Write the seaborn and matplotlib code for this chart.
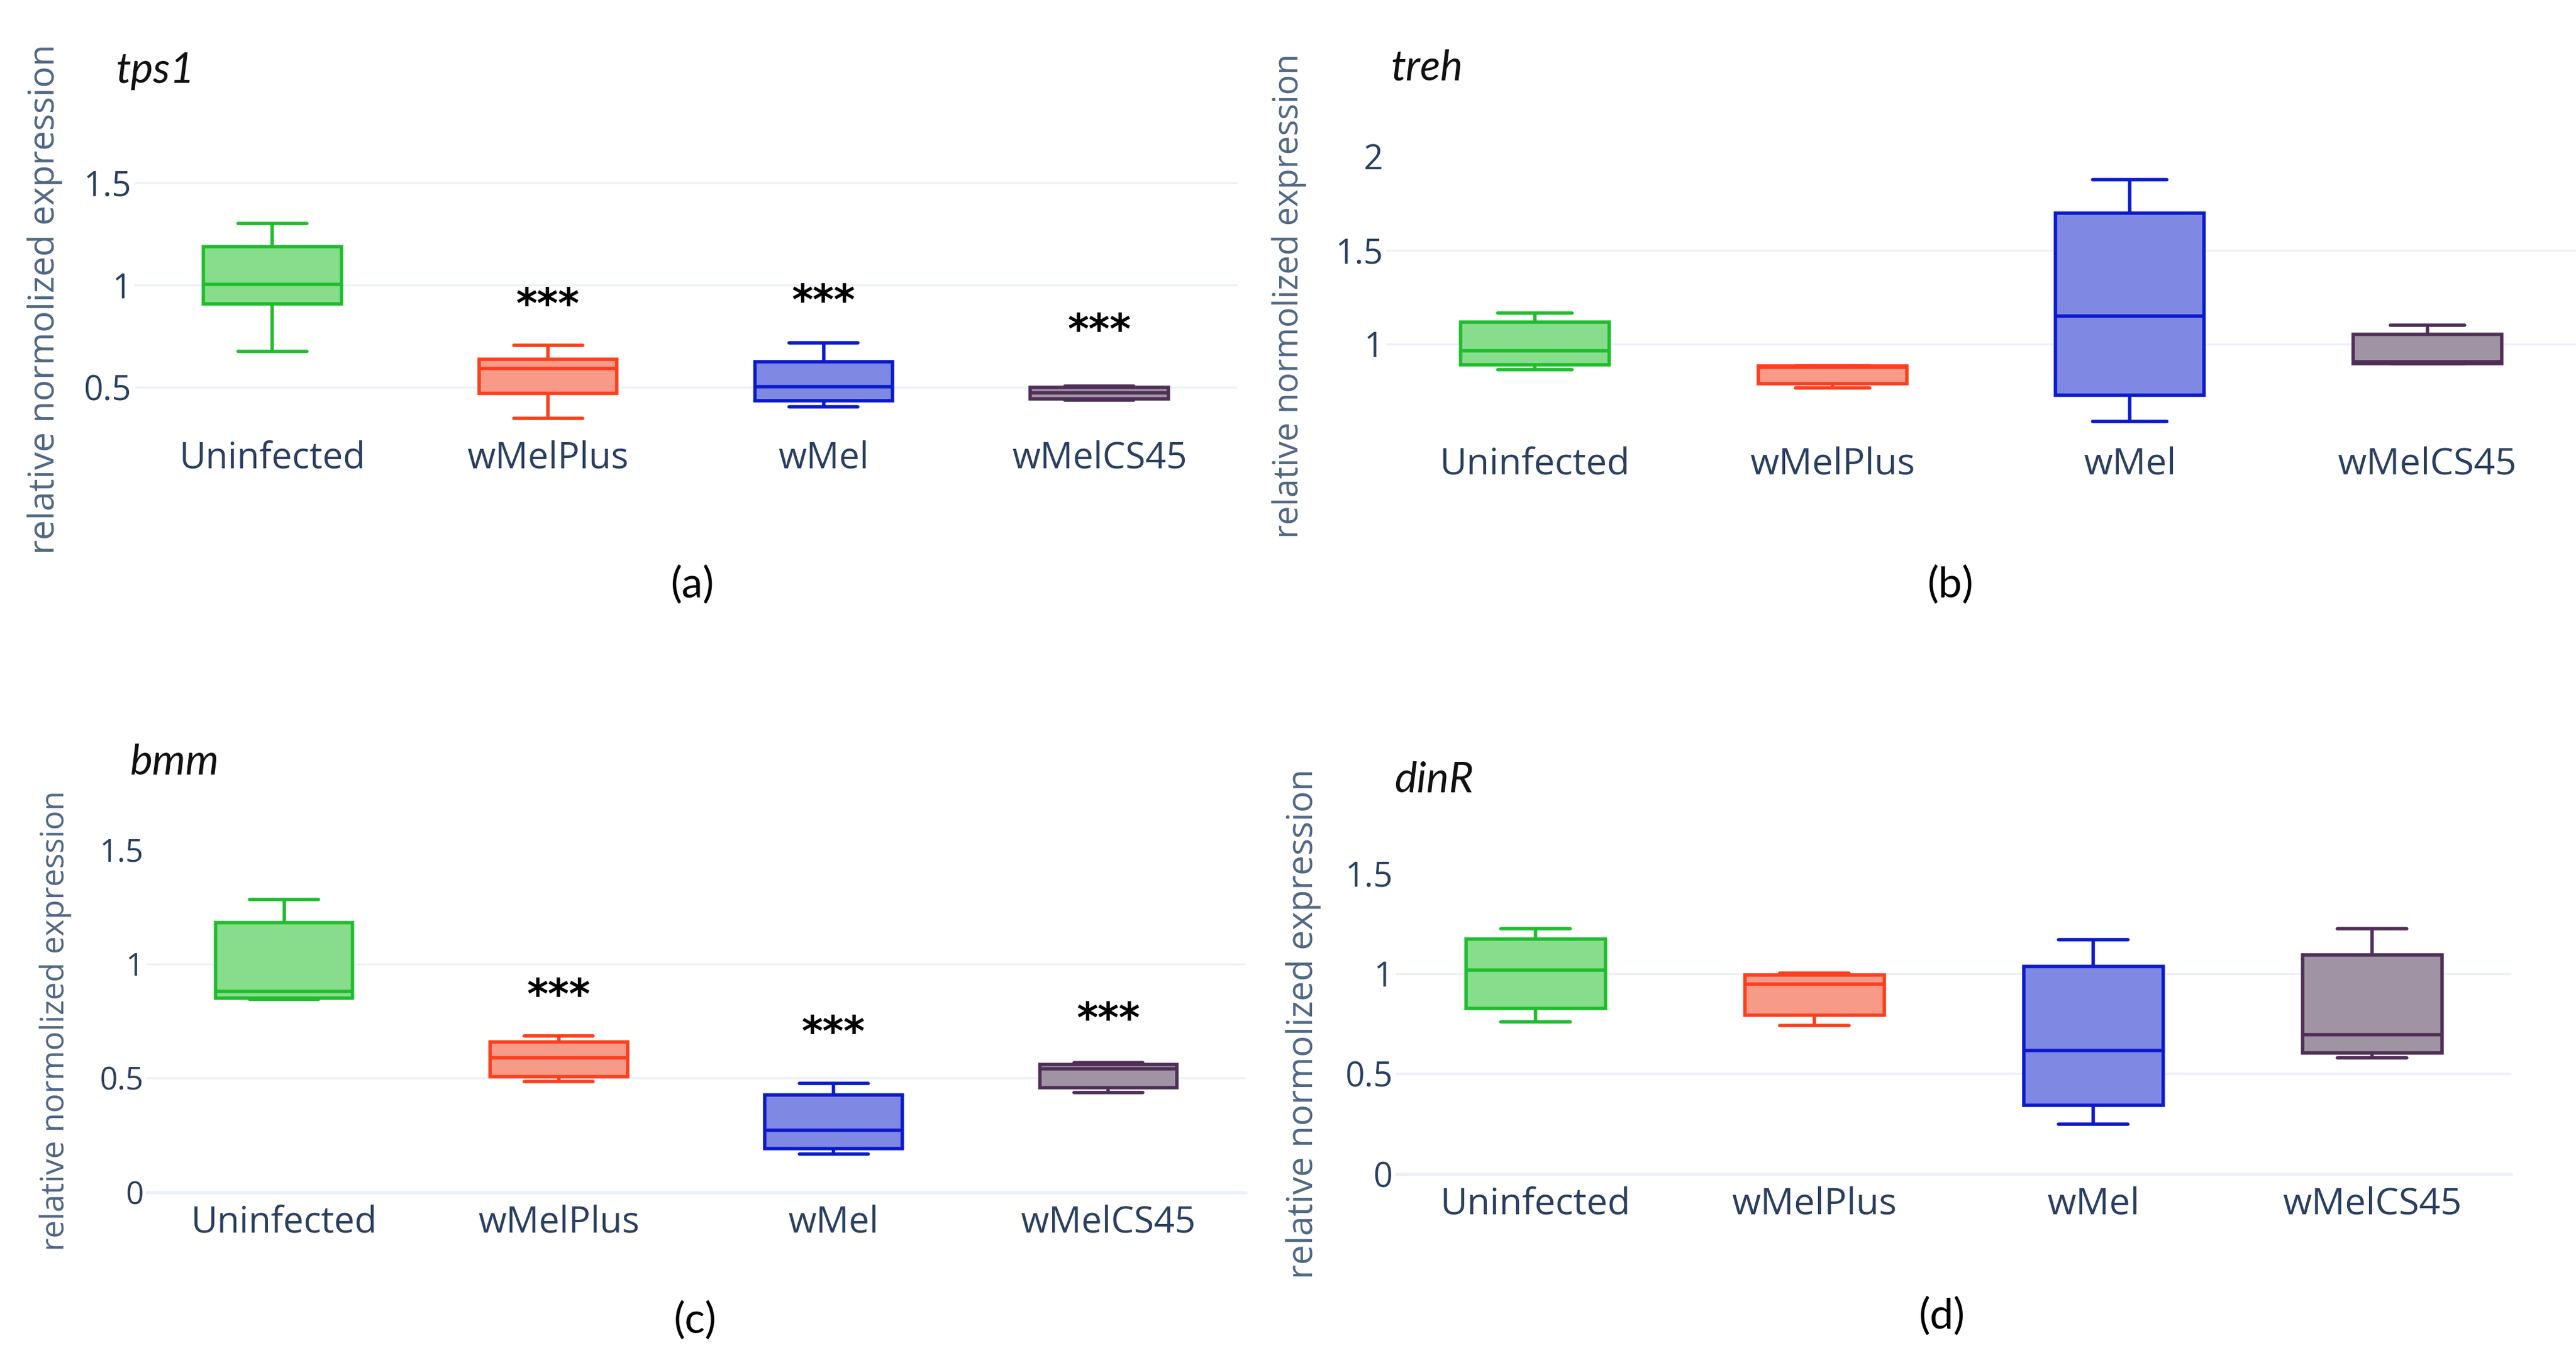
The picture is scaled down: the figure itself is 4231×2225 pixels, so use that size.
import matplotlib
matplotlib.use("Agg")
import pandas as pd
import numpy as np
import matplotlib.pyplot as plt
import seaborn as sns

# ----------------- Dados (min, Q1, mediana, Q3, max) -----------------
groups = ["Uninfected", "wMelPlus", "wMel", "wMelCS45"]

tps1 = [[0.677, 0.908, 1.004, 1.189, 1.302],
        [0.349, 0.470, 0.592, 0.636, 0.706],
        [0.404, 0.436, 0.502, 0.626, 0.717],
        [0.437, 0.443, 0.473, 0.500, 0.505]]

treh = [[0.863, 0.888, 0.965, 1.118, 1.166],
        [0.766, 0.788, 0.875, 0.882, 0.884],
        [0.587, 0.726, 1.149, 1.697, 1.878],
        [0.895, 0.897, 0.905, 1.052, 1.100]]

bmm = [[0.845, 0.850, 0.879, 1.181, 1.282],
       [0.484, 0.506, 0.587, 0.658, 0.684],
       [0.166, 0.192, 0.272, 0.426, 0.477],
       [0.435, 0.457, 0.539, 0.559, 0.567]]

dinR = [[0.760, 0.825, 1.017, 1.173, 1.223],
        [0.740, 0.792, 0.948, 0.992, 1.002],
        [0.250, 0.344, 0.615, 1.035, 1.169],
        [0.579, 0.604, 0.694, 1.094, 1.225]]

# posição (y) dos asteriscos de significância
tps1_stars = [None, 0.896, 0.915, 0.772]
treh_stars = [None, None, None, None]
bmm_stars = [None, 0.856, 0.691, 0.751]
dinR_stars = [None, None, None, None]

# ----------------- Estilo -----------------
fill_colors = ["#88dd8c", "#f89a88", "#7f88e3", "#a093a3"]
line_colors = ["#1fbd2e", "#fc3f1e", "#0b1acb", "#4f2f57"]
TXT = "#2a3f5f"
GRID = "#ebf0f8"

W, H = 4231, 2225
sns.set_theme(style="white")
plt.rcParams["font.family"] = ["Open Sans", "DejaVu Sans"]

fig = plt.figure(figsize=(W / 100, H / 100), dpi=100)
fig.patch.set_facecolor("white")

# painel: dados, estrelas, nome, letra, caixa em pixels (esq, dir, topo, base), ylim, ticks
panels = [
    dict(data=tps1, stars=tps1_stars, gene="tps1", letter="(a)",
         box=(221, 2032, 276.5, 703.2), ylim=(0.30, 1.57), ticks=[0.5, 1, 1.5],
         gene_xy=(190, 136), letter_xy=(1138, 960), ylab_xy=(74, 491),
         ylab_fs=42, tick_fs=40, cat_fs=43, zero=False),
    dict(data=treh, stars=treh_stars, gene="treh", letter="(b)",
         box=(2277, 4231, 257, 712.8), ylim=(0.52, 2.0), ticks=[1, 1.5, 2],
         gene_xy=(2284, 131), letter_xy=(3204, 960), ylab_xy=(2117, 486),
         ylab_fs=40, tick_fs=40, cat_fs=44, zero=False),
    dict(data=bmm, stars=bmm_stars, gene="bmm", letter="(c)",
         box=(241, 2046, 1395.1, 1957.6), ylim=(0, 1.5), ticks=[0, 0.5, 1, 1.5],
         gene_xy=(214, 1272), letter_xy=(1142, 2168), ylab_xy=(91, 1676),
         ylab_fs=38, tick_fs=37, cat_fs=43, zero=True),
    dict(data=dinR, stars=dinR_stars, gene="dinR", letter="(d)",
         box=(2293, 4125, 1434, 1928), ylim=(0, 1.5), ticks=[0, 0.5, 1, 1.5],
         gene_xy=(2290, 1301), letter_xy=(3190, 2161), ylab_xy=(2141, 1681),
         ylab_fs=42, tick_fs=40, cat_fs=44, zero=True),
]

for p in panels:
    l, r, t, b = p["box"]
    ax = fig.add_axes([l / W, 1 - b / H, (r - l) / W, (b - t) / H])
    ax.set_facecolor("white")

    df = pd.DataFrame({
        "grupo": np.repeat(groups, 5),
        "valor": np.concatenate(p["data"]),
    })

    for g, fc, lc in zip(groups, fill_colors, line_colors):
        sns.boxplot(data=df[df["grupo"] == g], x="grupo", y="valor", order=groups,
                    color=fc, linecolor=lc, linewidth=4, width=0.5,
                    whis=(0, 100), showfliers=False, saturation=1, ax=ax)

    for i, s in enumerate(p["stars"]):
        if s is not None:
            ax.text(i, s, "***", ha="center", va="center", fontsize=48,
                    fontweight="bold", family="DejaVu Sans", color="black")

    ax.set_xlim(-0.5, 3.5)
    ax.set_ylim(*p["ylim"])
    ax.set_yticks(p["ticks"])
    ax.set_yticklabels([f"{v:g}" for v in p["ticks"]])
    ax.set_xlabel("")
    ax.set_ylabel("")
    ax.tick_params(axis="y", length=0, pad=4, labelsize=p["tick_fs"], labelcolor=TXT)
    ax.tick_params(axis="x", length=0, pad=14, labelsize=p["cat_fs"], labelcolor=TXT)

    ax.set_axisbelow(True)
    ax.yaxis.grid(True, color=GRID, linewidth=2.4)
    # plotly não desenha a linha de grade no topo do eixo
    for gl, v in zip(ax.get_ygridlines(), p["ticks"]):
        if v >= p["ylim"][1] - 1e-9:
            gl.set_visible(False)
    if p["zero"]:
        ax.axhline(0, color=GRID, linewidth=3.6, zorder=0, clip_on=False)
    for sp in ax.spines.values():
        sp.set_visible(False)

    gx, gy = p["gene_xy"]
    fig.text(gx / W, 1 - gy / H, p["gene"], ha="left", va="baseline",
             fontsize=50, style="italic", family=["Lato", "DejaVu Sans"], color="#111111")
    lx, ly = p["letter_xy"]
    fig.text(lx / W, 1 - ly / H, p["letter"], ha="center", va="center",
             fontsize=50, family=["Lato", "DejaVu Sans"], color="black")
    yx, yy = p["ylab_xy"]
    fig.text(yx / W, 1 - yy / H, "relative normolized expression", rotation=90,
             ha="center", va="center", fontsize=p["ylab_fs"], color="#506784")

fig.savefig("out.png", dpi=100, facecolor="white")
